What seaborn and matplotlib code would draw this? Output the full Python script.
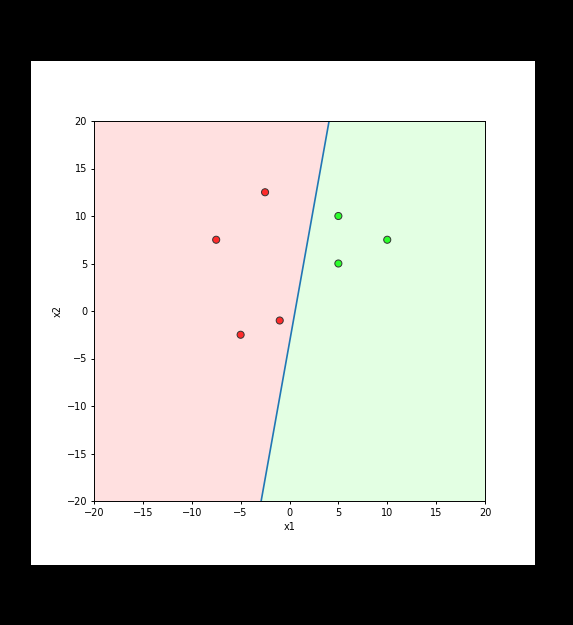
import numpy as np
import pandas as pd
import matplotlib
matplotlib.use("Agg")
from matplotlib import pyplot as plt
from matplotlib.patches import Rectangle
import seaborn as sns

# points
red_x1 = [-2.5, -7.5, -1.0, -5.0]
red_x2 = [12.5, 7.5, -1.0, -2.5]
green_x1 = [5.0, 10.0, 5.0]
green_x2 = [10.0, 7.5, 5.0]
# decision boundary end points
line_x1 = [-2.9, 4.05]
line_x2 = [-20.0, 20.0]
ticks = [-20, -15, -10, -5, 0, 5, 10, 15, 20]

points = pd.DataFrame({
    'x1': red_x1 + green_x1,
    'x2': red_x2 + green_x2,
    'cls': ['red'] * len(red_x1) + ['green'] * len(green_x1),
})

# the original is a shrunk screenshot, so everything is ~0.7 scale
plt.rcParams.update({
    'font.size': 7,
    'xtick.major.size': 2.5, 'ytick.major.size': 2.5,
    'xtick.major.pad': 2.5, 'ytick.major.pad': 2.5,
    'xtick.major.width': 0.7, 'ytick.major.width': 0.7,
    'axes.linewidth': 0.7, 'axes.labelpad': 2.8,
})

fig = plt.figure(figsize=(5.73, 6.25), dpi=100, facecolor='black')
fig.patches.append(Rectangle((31 / 573, 1 - 565 / 625), 504 / 573, 504 / 625,
                             transform=fig.transFigure, facecolor='white',
                             edgecolor='none', zorder=-10))
ax = fig.add_axes([94 / 573, 1 - 501 / 625, 391 / 573, 380 / 625])

# shaded half planes on either side of the boundary
yy = np.array(line_x2)
xx = np.array(line_x1)
ax.fill_betweenx(yy, -20, xx, color='#ffe0e0', lw=0, zorder=0)
ax.fill_betweenx(yy, xx, 20, color='#e3ffe3', lw=0, zorder=0)
ax.plot(line_x1, line_x2, color='#1f77b4', lw=1.2, zorder=2)

sns.scatterplot(data=points, x='x1', y='x2', hue='cls',
                palette={'red': '#ff2b2b', 'green': '#2bff2b'},
                edgecolor='#333333', linewidth=0.7, s=26, legend=False,
                ax=ax, zorder=3)

ax.set_xlim(-20, 20)
ax.set_ylim(-20, 20)
ax.set_xticks(ticks)
ax.set_yticks(ticks)
ax.set_xlabel('x1')
ax.set_ylabel('x2')

fig.savefig('out.png', dpi=100, facecolor=fig.get_facecolor())
